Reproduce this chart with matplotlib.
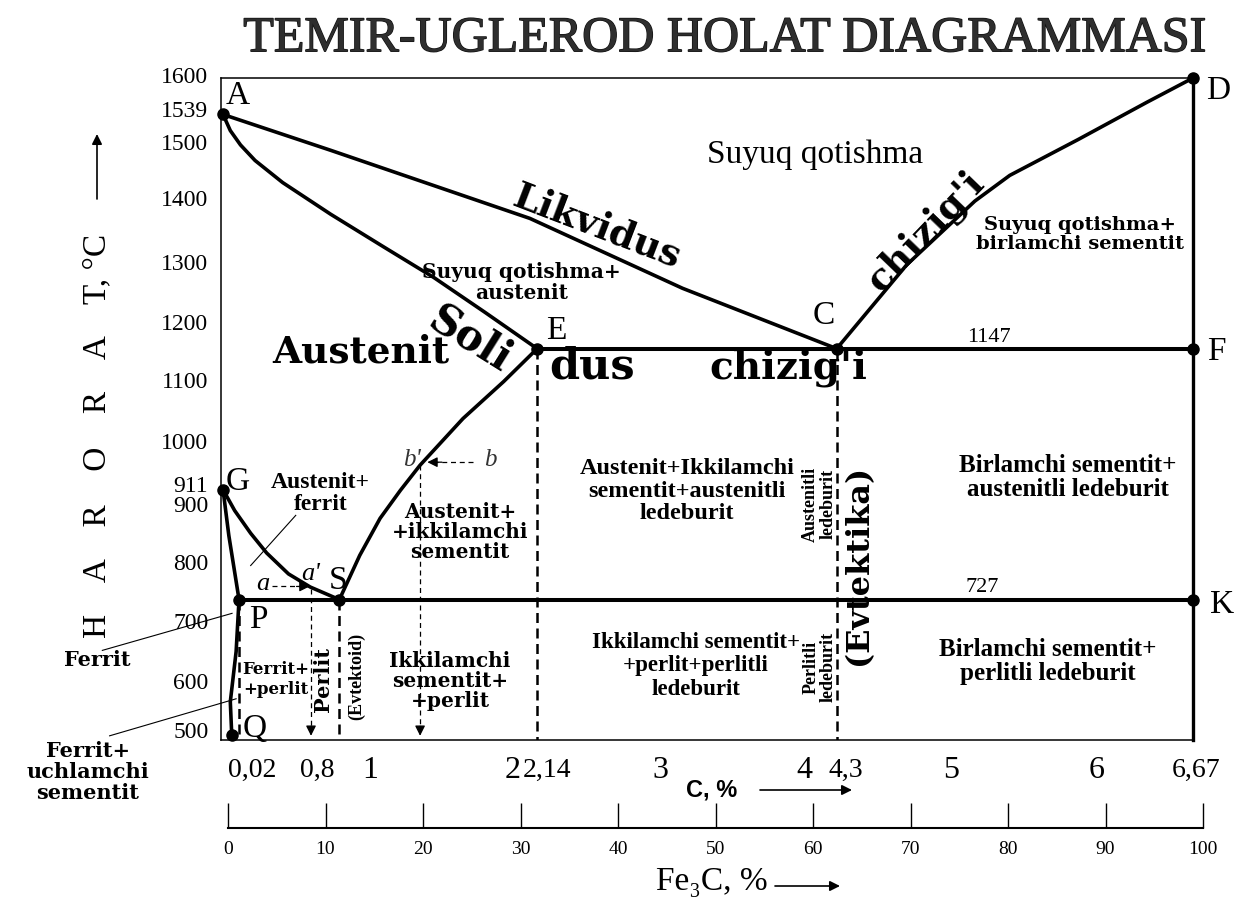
import matplotlib
matplotlib.use("Agg")
import matplotlib.pyplot as plt
from matplotlib import patheffects
from matplotlib.transforms import blended_transform_factory

W, H = 1239, 903

# ---- values (carbon %, temperature degC) ----
point_names = ["A", "C", "D", "E", "F", "G", "P", "S", "K", "Q"]
point_c = [0.0, 4.22, 6.67, 2.16, 6.67, 0.0, 0.11, 0.80, 6.67, 0.06]
point_t = [1539, 1147, 1600, 1147, 1147, 911, 727, 727, 727, 500]

liquidus_ac_c = [0.0, 0.74, 2.11, 3.16, 4.22]
liquidus_ac_t = [1539, 1479, 1365, 1248, 1147]
liquidus_cd_c = [4.22, 4.70, 5.17, 5.41, 5.88, 6.35, 6.67]
liquidus_cd_t = [1147, 1287, 1394, 1437, 1497, 1559, 1600]
solidus_ae_c = [0.0, 0.05, 0.12, 0.22, 0.41, 0.74, 1.10, 1.45, 1.80, 2.16]
solidus_ae_t = [1539, 1512, 1488, 1462, 1425, 1372, 1318, 1266, 1208, 1147]
se_c = [0.80, 0.94, 1.08, 1.22, 1.355, 1.65, 1.93, 2.16]
se_t = [727, 801, 863, 910, 952, 1030, 1092, 1147]
gs_c = [0.0, 0.08, 0.19, 0.30, 0.45, 0.60, 0.80]
gs_t = [911, 876, 838, 805, 770, 748, 727]
gp_c = [0.0, 0.04, 0.076, 0.11]
gp_t = [911, 834, 779, 727]
pq_c = [0.11, 0.09, 0.05, 0.06]
pq_t = [727, 640, 556, 500]

eutectic_t = 1147
eutectoid_t = 727
a_c, a_t = 0.605, 749      # a -> a'
b_c, b_t = 1.355, 957      # b -> b'

t_ticks = [1600, 1539, 1500, 1400, 1300, 1200, 1100, 1000, 911, 900, 800, 700, 600, 500]
c_labels = ["0,02", "0,8", "1", "2", "2,14", "3", "4", "4,3", "5", "6", "6,67"]
fe3c_ticks = [0, 10, 20, 30, 40, 50, 60, 70, 80, 90, 100]

# ---- layout ----
t_label_y = [1603, 1545, 1491, 1396, 1290, 1189, 1092, 990, 918, 884, 787, 688, 588, 506]
c_label_x = [0.20, 0.65, 1.01, 1.99, 2.23, 3.01, 4.00, 4.28, 5.01, 6.01, 6.69]

SERIF = "Liberation Serif"
WIDE = "DejaVu Serif"


def fx(px):
    return px / W


def fy(py):
    return 1 - py / H


fig = plt.figure(figsize=(W / 100, H / 100), dpi=100)
ax = fig.add_axes([fx(221), fy(741), (1193 - 221) / W, (741 - 79) / H])
ax.set_xlim(-0.014, 6.67)
ax.set_ylim(492, 1600)
ax.set_xticks([])
ax.set_yticks([])
for side in ["top", "left", "bottom"]:
    ax.spines[side].set_linewidth(1.1)
ax.spines["right"].set_visible(False)

lw_main = 2.6
kw = dict(color="black", lw=lw_main, solid_capstyle="round", solid_joinstyle="round", clip_on=False)
ax.plot(liquidus_ac_c, liquidus_ac_t, **kw)
ax.plot(liquidus_cd_c, liquidus_cd_t, **kw)
ax.plot(solidus_ae_c, solidus_ae_t, **kw)
ax.plot(se_c, se_t, **kw)
ax.plot(gs_c, gs_t, **kw)
ax.plot(gp_c, gp_t, **kw)
ax.plot(pq_c, pq_t, **kw)

pc = dict(zip(point_names, point_c))
ax.plot([pc["E"], pc["F"]], [eutectic_t, eutectic_t], color="black", lw=2.9, clip_on=False)
ax.plot([pc["P"], pc["K"]], [eutectoid_t, eutectoid_t], color="black", lw=2.9, clip_on=False)
ax.plot([pc["D"], pc["D"]], [1600, 492], color="black", lw=2.4, clip_on=False)

# dashed structure boundaries
for name, top in [("P", eutectoid_t), ("S", eutectoid_t), ("E", eutectic_t), ("C", eutectic_t)]:
    ax.plot([pc[name], pc[name]], [top, 492], color="black", lw=1.8, dashes=(4, 2.2))

# thin construction lines a-a' and b-b'
ax.plot([a_c, a_c], [a_t - 5, 512], color="black", lw=0.9, dashes=(4, 3))
ax.plot([b_c, b_c], [b_t - 5, 512], color="black", lw=0.9, dashes=(4, 3))
ax.plot([0.34, a_c - 0.04], [a_t, a_t], color="black", lw=0.9, dashes=(4, 3))
ax.plot([1.72, b_c + 0.09], [b_t, b_t], color="black", lw=0.9, dashes=(4, 3))
head = dict(arrowstyle="-|>", color="black", lw=0.9, mutation_scale=15, shrinkA=0, shrinkB=0)
ax.annotate("", xy=(a_c, 499), xytext=(a_c, 515), arrowprops=head)
ax.annotate("", xy=(b_c, 499), xytext=(b_c, 515), arrowprops=head)
ax.annotate("", xy=(a_c - 0.01, a_t), xytext=(a_c - 0.1, a_t), arrowprops=head)
ax.annotate("", xy=(b_c + 0.05, b_t), xytext=(b_c + 0.15, b_t), arrowprops=head)

ax.plot(point_c, point_t, "o", color="black", ms=8, clip_on=False, zorder=5)

# point letters
letter_pos = {"A": (0.10, 1572), "C": (4.13, 1203), "D": (6.84, 1580), "E": (2.29, 1179),
              "F": (6.83, 1144), "G": (0.10, 926), "P": (0.24, 695), "S": (0.79, 761),
              "K": (6.87, 720), "Q": (0.22, 513)}
for name in point_names:
    x, y = letter_pos[name]
    ax.text(x, y, name, family=SERIF, fontsize=24, ha="center", va="center")

ax.text(5.27, 1168, "1147", family=SERIF, fontsize=16, ha="center", va="center")
ax.text(5.22, 749, "727", family=SERIF, fontsize=16, ha="center", va="center")

# big line names
ax.text(2.57, 1354, "Likvidus", family=WIDE, weight="bold", fontsize=27, rotation=-21,
        ha="center", va="center", rotation_mode="anchor")
ax.text(4.83, 1344, "chizig'i", family=WIDE, weight="bold", fontsize=27, rotation=46,
        ha="center", va="center", rotation_mode="anchor")
ax.text(1.70, 1164, "Soli", family=WIDE, weight="bold", fontsize=30, rotation=-32,
        ha="center", va="center", rotation_mode="anchor")
ax.text(2.54, 1119, "dus", family=WIDE, weight="bold", fontsize=31, ha="center", va="center")
ax.text(3.89, 1117, "chizig'i", family=WIDE, weight="bold", fontsize=28, ha="center", va="center")
ax.text(0.95, 1143, "Austenit", family=WIDE, weight="bold", fontsize=27, ha="center", va="center")

# phase region labels
ax.text(4.07, 1474, "Suyuq qotishma", family=SERIF, fontsize=24, ha="center", va="center")
wide_lbl = dict(family=WIDE, weight="bold", ha="center", va="center", multialignment="center")
ax.text(5.89, 1340, "Suyuq qotishma+\nbirlamchi sementit", fontsize=14, linespacing=1.05, **wide_lbl)
ax.text(2.05, 1260, "Suyuq qotishma+\naustenit", fontsize=14.5, linespacing=1.05, **wide_lbl)
ax.text(1.63, 841, "Austenit+\n+ikkilamchi\nsementit", fontsize=14.5, linespacing=1.0, **wide_lbl)
ax.text(1.56, 593, "Ikkilamchi\nsementit+\n+perlit", fontsize=14.5, linespacing=1.0, **wide_lbl)
ax.text(0.36, 595, "Ferrit+\n+perlit", fontsize=12, linespacing=1.3, **wide_lbl)
ax.text(0.69, 595, "Perlit", fontsize=15, rotation=90, **wide_lbl)
ax.text(4.37, 787, "(Evtektika)", fontsize=23, rotation=90, **wide_lbl)

times_lbl = dict(family=SERIF, weight="bold", ha="center", va="center", multialignment="center")
ax.text(0.67, 906, "Austenit+\nferrit", fontsize=17, linespacing=1.05, **times_lbl)
ax.text(3.19, 910, "Austenit+Ikkilamchi\nsementit+austenitli\nledeburit", fontsize=17.5, linespacing=1.1, **times_lbl)
ax.text(3.25, 618, "Ikkilamchi sementit+\n+perlit+perlitli\nledeburit", fontsize=16.5, linespacing=1.15, **times_lbl)
ax.text(5.81, 933, "Birlamchi sementit+\naustenitli ledeburit", fontsize=18, linespacing=1.1, **times_lbl)
ax.text(5.67, 625, "Birlamchi sementit+\nperlitli ledeburit", fontsize=18, linespacing=1.1, **times_lbl)
ax.text(4.10, 888, "Austenitli\nledeburit", fontsize=13, rotation=90, linespacing=1.0, **times_lbl)
ax.text(4.10, 616, "Perlitli\nledeburit", fontsize=13, rotation=90, linespacing=1.0, **times_lbl)
ax.text(0.92, 600, "(Evtektoid)", fontsize=13, rotation=90, **times_lbl)

ax.text(0.275, 754, "a", family=SERIF, style="italic", fontsize=19, ha="center", va="center")
ax.text(0.60, 771, "a'", family=SERIF, style="italic", fontsize=19, ha="center", va="center")
ax.text(1.30, 963, "b'", family=SERIF, style="italic", fontsize=18, ha="center", va="center", color="#333333")
ax.text(1.84, 963, "b", family=SERIF, style="italic", fontsize=18, ha="center", va="center", color="#333333")

# leader lines and labels left of the frame
ax.plot([0.50, 0.19], [868, 784], color="black", lw=0.8)
ax.plot([-0.83, 0.062], [642, 704], color="black", lw=0.8, clip_on=False)
ax.plot([-0.78, 0.09], [499, 561], color="black", lw=0.8, clip_on=False)
fig.text(fx(97), fy(660), "Ferrit", fontsize=15, **wide_lbl)
fig.text(fx(88), fy(772), "Ferrit+\nuchlamchi\nsementit", fontsize=15, linespacing=1.05, **wide_lbl)

# temperature labels
ytr = blended_transform_factory(ax.transAxes, ax.transData)
for val, y in zip(t_ticks, t_label_y):
    ax.text(-0.013, y, str(val), transform=ytr, family=SERIF, fontsize=17, ha="right", va="center")

# carbon labels
xtr = ax.get_xaxis_transform()
for lab, x in zip(c_labels, c_label_x):
    size = 20 if "," in lab else 23
    ax.text(x, -0.045, lab, transform=xtr, family=SERIF, fontsize=size, ha="center", va="center")

fig.text(fx(712), fy(790), "C, %", family="Liberation Sans", weight="bold", fontsize=17, ha="center", va="center")
arrow = dict(arrowstyle="-|>", color="black", lw=1.2, mutation_scale=15, shrinkA=0, shrinkB=0)
fig.add_artist(matplotlib.patches.FancyArrowPatch((fx(760), fy(791)), (fx(852), fy(791)),
                                                  transform=fig.transFigure, **arrow))

# Fe3C scale
ax2 = fig.add_axes([fx(228), fy(829), (1203 - 228) / W, 0.001])
ax2.set_xlim(0, 100)
ax2.set_yticks([])
for side in ["top", "left", "right"]:
    ax2.spines[side].set_visible(False)
ax2.spines["bottom"].set_linewidth(1.5)
ax2.set_xticks(fe3c_ticks)
ax2.set_xticklabels([str(v) for v in fe3c_ticks], family=SERIF, fontsize=14)
ax2.tick_params(axis="x", direction="in", length=18, width=1.0, pad=9)
ax2.patch.set_visible(False)

fig.text(fx(712), fy(882), "Fe\u2083C, %", family=[SERIF, "DejaVu Serif"], fontsize=24, ha="center", va="center")
fig.add_artist(matplotlib.patches.FancyArrowPatch((fx(775), fy(887)), (fx(840), fy(887)),
                                                  transform=fig.transFigure, **arrow))

# vertical axis title
fig.text(fx(97), fy(436), "H    A    R    O    R    A    T, \u00b0C", family=SERIF, fontsize=24,
         rotation=90, ha="center", va="center")
fig.add_artist(matplotlib.patches.FancyArrowPatch((fx(97), fy(200)), (fx(97), fy(135)),
                                                  transform=fig.transFigure, **arrow))

# title
fig.text(fx(725), fy(40), "TEMIR-UGLEROD HOLAT DIAGRAMMASI", family=SERIF, fontsize=36,
         color="#2e2e2e", ha="center", va="center",
         path_effects=[patheffects.withStroke(linewidth=1.0, foreground="#111111")])

fig.savefig("out.png", dpi=100, facecolor="white")
